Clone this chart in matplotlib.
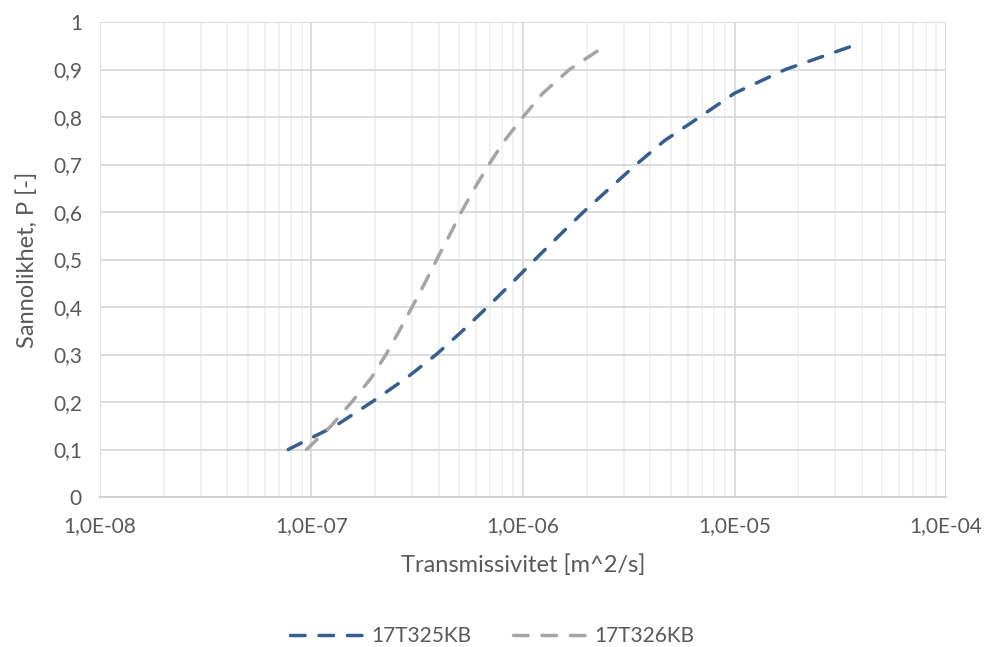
import numpy as np
import matplotlib
matplotlib.use("Agg")
import matplotlib.pyplot as plt
from matplotlib.ticker import LogLocator, FixedLocator, FuncFormatter, NullFormatter

# sannolikhet P och läst transmissivitet per borrhål
p_levels = [0.10, 0.15, 0.20, 0.25, 0.30, 0.35, 0.40, 0.45, 0.50,
            0.55, 0.60, 0.65, 0.70, 0.75, 0.80, 0.85, 0.90, 0.95]
t_17T325KB = [7.76e-8, 1.30e-7, 1.93e-7, 2.80e-7, 3.89e-7, 5.18e-7, 6.79e-7, 8.83e-7, 1.14e-6,
              1.48e-6, 1.93e-6, 2.57e-6, 3.43e-6, 4.66e-6, 6.85e-6, 1.00e-5, 1.74e-5, 3.63e-5]
t_17T326KB = [9.48e-8, 1.24e-7, 1.55e-7, 1.91e-7, 2.25e-7, 2.60e-7, 2.99e-7, 3.43e-7, 3.91e-7,
              4.48e-7, 5.11e-7, 5.90e-7, 6.90e-7, 8.17e-7, 1.00e-6, 1.24e-6, 1.66e-6, 2.45e-6]
x_ticks = [1e-8, 1e-7, 1e-6, 1e-5, 1e-4]
x_ticklabels = ["1,0E-08", "1,0E-07", "1,0E-06", "1,0E-05", "1,0E-04"]
y_ticks = np.arange(0, 1.01, 0.1)

text_col = "#595959"
plt.rcParams["font.family"] = ["Lato", "DejaVu Sans"]
plt.rcParams["lines.scale_dashes"] = False

fig = plt.figure(figsize=(9.84, 6.47), dpi=100)
ax = fig.add_axes([0.1016, 0.2318, 0.8598, 0.7342])

ax.plot(t_17T325KB, p_levels, color="#365E8F", lw=2.5, dashes=(10.5, 10),
        dash_capstyle="round", label="17T325KB")
ax.plot(t_17T326KB, p_levels, color="#A5A5A5", lw=2.5, dashes=(10.5, 10),
        dash_capstyle="round", label="17T326KB")

ax.set_xscale("log")
ax.set_xlim(1e-8, 1e-4)
ax.set_ylim(0, 1)
ax.xaxis.set_major_locator(FixedLocator(x_ticks))
ax.xaxis.set_major_formatter(FuncFormatter(lambda v, i: x_ticklabels[x_ticks.index(v)] if v in x_ticks else ""))
ax.xaxis.set_minor_locator(LogLocator(base=10, subs=np.arange(2, 10)))
ax.xaxis.set_minor_formatter(NullFormatter())
ax.yaxis.set_major_locator(FixedLocator(y_ticks))
ax.yaxis.set_major_formatter(FuncFormatter(lambda v, i: "0" if abs(v) < 1e-9 else ("1" if abs(v - 1) < 1e-9 else f"{v:.1f}".replace(".", ","))))

ax.grid(which="major", color="#D9D9D9", lw=1.3)
ax.grid(which="minor", axis="x", color="#F0F0F0", lw=1.3)
ax.set_axisbelow(True)
for s in ["top", "right", "left"]:
    ax.spines[s].set_visible(False)
ax.spines["bottom"].set_color("#D0D0D0")
ax.spines["bottom"].set_linewidth(1.3)
ax.tick_params(which="both", length=0, colors=text_col, labelsize=15)
ax.tick_params(axis="x", pad=14)
ax.tick_params(axis="y", pad=13)

ax.set_xlabel("Transmissivitet [m^2/s]", fontsize=17, color=text_col, labelpad=13)
ax.set_ylabel("Sannolikhet, P [-]", fontsize=17, color=text_col, labelpad=11)

fig.legend(loc="lower center", ncol=2, bbox_to_anchor=(0.5, -0.028), frameon=False,
           fontsize=15, labelcolor=text_col, handlelength=3.6, columnspacing=2.0,
           handletextpad=0.3)

fig.savefig("out.png", dpi=100)
